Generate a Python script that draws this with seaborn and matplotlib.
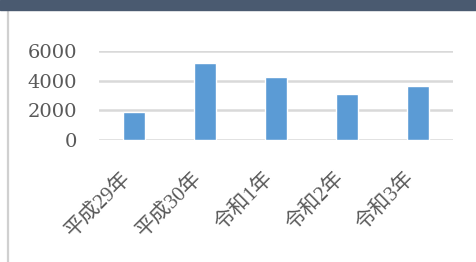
import pandas as pd
import matplotlib.pyplot as plt
import matplotlib.transforms as mtransforms
import seaborn as sns
from matplotlib.lines import Line2D
from matplotlib.patches import Rectangle

years = ["平成29年", "平成30年", "令和1年", "令和2年", "令和3年"]
counts = [1870, 5170, 4250, 3100, 3660]
yticks = [0, 2000, 4000, 6000]

df = pd.DataFrame({"year": years, "count": counts})

sns.set_style("white")
plt.rcParams['font.family'] = ['Liberation Serif', 'Noto Sans CJK JP', 'DejaVu Sans']

fig = plt.figure(figsize=(4.76, 2.62), dpi=100)
ax = fig.add_axes([99 / 476, (262 - 140) / 262, 354 / 476, 89 / 262])

sns.barplot(data=df, x="year", y="count", color="#5B9BD5", saturation=1,
            width=0.31, ax=ax)

ax.set_ylim(0, 6000)
ax.set_xlim(-0.5, 4.5)
ax.set_yticks(yticks)
ax.yaxis.grid(True, color="#D9D9D9", linewidth=1.8, zorder=0)
ax.set_axisbelow(True)
for s in ax.spines.values():
    s.set_visible(False)
ax.set_xlabel("")
ax.set_ylabel("")
ax.tick_params(axis="both", length=0, colors="#595959")
ax.tick_params(axis="y", pad=16, labelsize=14)
ax.tick_params(axis="x", pad=19, labelsize=15)
for lab in ax.get_yticklabels():
    lab.set_fontfamily("DejaVu Serif")
    lab.set_fontweight("light")
# shift rotated labels left so their end sits under the bar
offset = mtransforms.ScaledTranslation(-13 / 100, -2 / 100, fig.dpi_scale_trans)
for lab in ax.get_xticklabels():
    lab.set_rotation(45)
    lab.set_ha("right")
    lab.set_va("top")
    lab.set_rotation_mode("anchor")
    lab.set_transform(lab.get_transform() + offset)

# top band and left frame line
fig.patches.append(Rectangle((0, 1 - 10 / 262), 1, 10 / 262, transform=fig.transFigure,
                             color="#4A5A70", zorder=5))
fig.lines.append(Line2D([8 / 476, 8 / 476], [0, 1 - 10 / 262], transform=fig.transFigure,
                        color="#D0D0D0", linewidth=1.6))

fig.savefig("out.png", dpi=100)
